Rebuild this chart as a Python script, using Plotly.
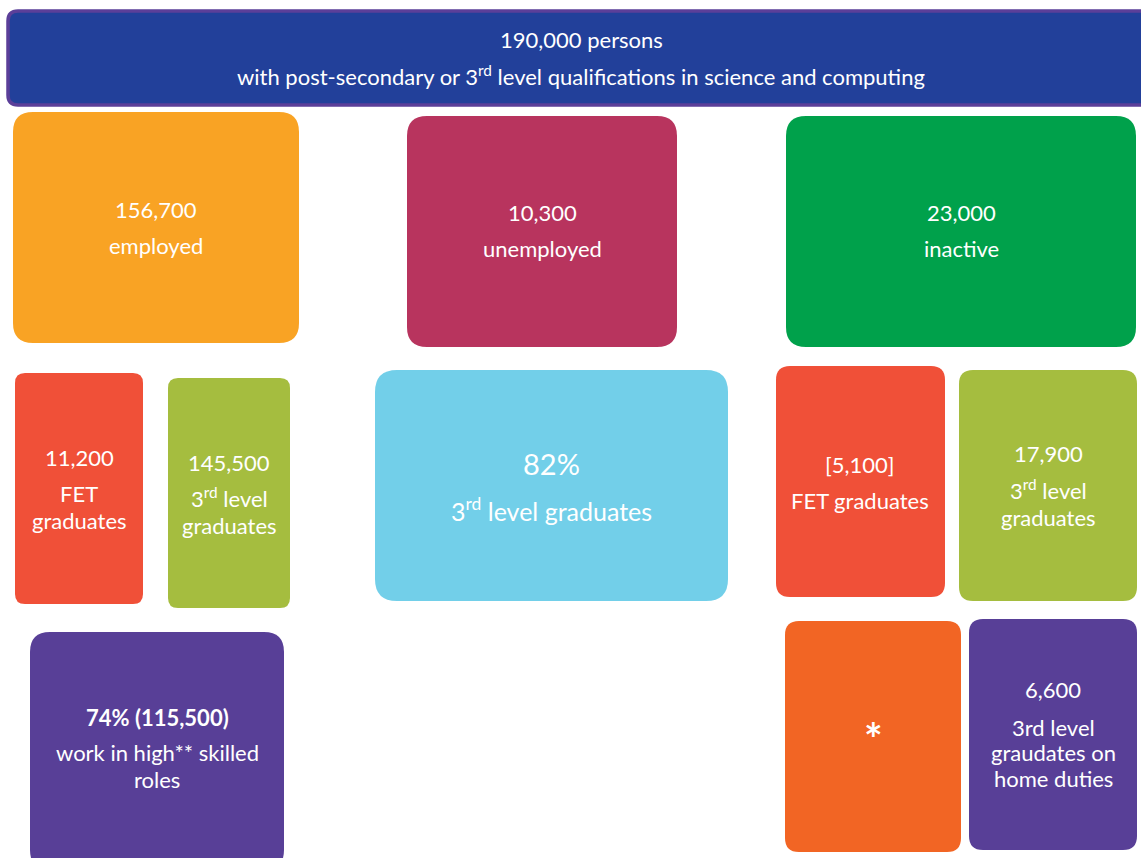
import plotly.graph_objects as go

# Headline figures (persons)
total_persons = 190000
status_labels = ["employed", "unemployed", "inactive"]
status_counts = [156700, 10300, 23000]

employed_fet = 11200
employed_third = 145500
unemployed_third_pct = 82
inactive_fet = 5100
inactive_third = 17900
home_duties_third = 6600
high_skilled_pct = 74
high_skilled_count = 115500

W, H = 1141, 858
FONT = "Lato"
BASE = 22

# Box geometry: (x0, y0, x1, y1, radius, fill)
boxes = {
    "banner": (8, 11, 1152, 105, 10, "#22409A"),
    "employed": (13, 112, 299, 343, 20, "#F9A324"),
    "unemployed": (407, 116, 677, 347, 20, "#B8345E"),
    "inactive": (786, 116, 1136, 347, 20, "#00A14B"),
    "emp_fet": (15, 373, 143, 604, 10, "#F05038"),
    "emp_third": (168, 378, 290, 608, 10, "#A5BD3F"),
    "unemp_third": (375, 370, 728, 601, 22, "#72CFE9"),
    "inact_fet": (776, 366, 945, 597, 14, "#F05038"),
    "inact_third": (959, 370, 1137, 601, 14, "#A5BD3F"),
    "high_skilled": (30, 632, 284, 870, 20, "#583F97"),
    "star": (785, 621, 961, 852, 14, "#F26524"),
    "home_duties": (969, 619, 1137, 850, 14, "#583F97"),
}


def rounded_path(x0, y0, x1, y1, r):
    return (f"M {x0 + r} {y0} L {x1 - r} {y0} Q {x1} {y0} {x1} {y0 + r} "
            f"L {x1} {y1 - r} Q {x1} {y1} {x1 - r} {y1} "
            f"L {x0 + r} {y1} Q {x0} {y1} {x0} {y1 - r} "
            f"L {x0} {y0 + r} Q {x0} {y0} {x0 + r} {y0} Z")


fig = go.Figure()
# invisible trace to anchor the axes
fig.add_trace(go.Scatter(x=[0, W], y=[0, H], mode="markers",
                         marker=dict(opacity=0), hoverinfo="skip", showlegend=False))

shapes = []
for key, (x0, y0, x1, y1, r, col) in boxes.items():
    line = dict(width=0)
    if key == "banner":
        line = dict(color="#5B3F99", width=3.5)
    shapes.append(dict(type="path", xref="x", yref="y",
                       path=rounded_path(x0, y0, x1, y1, r),
                       fillcolor=col, line=line, layer="below"))

annotations = []


def txt(x, y, s, size=BASE, bold=False):
    if bold:
        s = f"<b>{s}</b>"
    annotations.append(dict(x=x, y=y, xref="x", yref="y", text=s, showarrow=False,
                            font=dict(family=FONT, size=size, color="white"),
                            xanchor="center", yanchor="middle"))


fmt = lambda v: f"{v:,}"
third = "3<sup>rd</sup> level"

# banner
txt(581, 39, f"{fmt(total_persons)} persons")
txt(581, 75, f"with post-secondary or {third} qualifications in science and computing")

# labour-market status
for cx, cy, lab, val in zip([156, 542, 961], [209, 212, 212], status_labels, status_counts):
    txt(cx, cy, fmt(val))
    txt(cx, cy + 36, lab)

# employed breakdown
txt(79, 457, fmt(employed_fet))
txt(79, 493, "FET")
txt(79, 520, "graduates")
txt(229, 462, fmt(employed_third))
txt(229, 497, third)
txt(229, 525, "graduates")

# unemployed breakdown
txt(551, 463, f"{unemployed_third_pct}%", size=29)
txt(551, 509, f"{third} graduates", size=25)

# inactive breakdown
txt(860, 464, f"[{fmt(inactive_fet)}]")
txt(860, 500, "FET graduates")
txt(1048, 453, fmt(inactive_third))
txt(1048, 489, third)
txt(1048, 517, "graduates")

# high-skilled roles
txt(157, 717, f"{high_skilled_pct}% ({fmt(high_skilled_count)})", bold=True)
txt(157, 752, "work in high** skilled")
txt(157, 779, "roles")

# suppressed figure and home duties
txt(873, 738, "*", size=44, bold=True)
txt(1053, 689, fmt(home_duties_third))
txt(1053, 727, "3rd level")
txt(1053, 752, "graudates on")
txt(1053, 778, "home duties")

fig.update_layout(
    width=W, height=H, margin=dict(l=0, r=0, t=0, b=0),
    paper_bgcolor="white", plot_bgcolor="white",
    xaxis=dict(range=[0, W], visible=False, fixedrange=True),
    yaxis=dict(range=[H, 0], visible=False, fixedrange=True),
    shapes=shapes, annotations=annotations, showlegend=False,
)

fig.write_html("out.html")
